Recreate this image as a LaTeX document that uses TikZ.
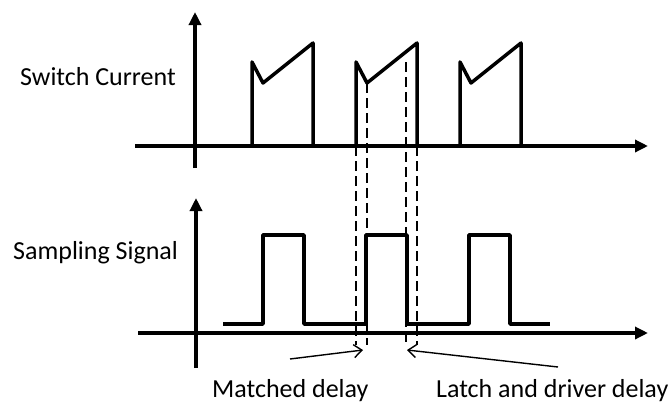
\documentclass[tikz,border=0pt]{standalone}
\usepackage{fontspec}
\setmainfont{Carlito}
\usetikzlibrary{arrows.meta}

\begin{document}
\begin{tikzpicture}[x=1pt, y=-1pt,
    axis/.style={line width=3.5pt, -{Triangle[length=13pt,width=12pt]}},
    wave/.style={line width=3.5pt, line join=round},
    guide/.style={line width=2.4pt, dash pattern=on 10pt off 5pt},
    sigtext/.style={inner sep=0pt, anchor=base west, font=\fontsize{26}{31}\selectfont},
    pointer/.style={line width=1.4pt, -{Straight Barb[length=8pt,width=13pt]}}
]
\useasboundingbox (0,0) rectangle (670,405);
% axes
\draw[axis] (195,168) -- (195,12);
\draw[axis] (135,146) -- (648,146);
\draw[axis] (196,368) -- (196,198);
\draw[axis] (138,333) -- (648,333);
% delay markers
\foreach \x/\y in {356/146, 367/83, 406/62, 417/146}
    \draw[guide] (\x,\y) -- (\x,345);
% switch current
\foreach \x in {252,356,460}
    \draw[wave] (\x,146) -- (\x,62) -- (\x+11,83) -- (\x+61,43) -- (\x+61,146);
% sampling signal
\draw[wave] (223,324) \foreach \x in {263,366,469} {
    -- (\x,324) -- (\x,235) -- (\x+41,235) -- (\x+41,324) } -- (550,324);
% labels
\node[sigtext] (current) at (20,85) {Switch Current};
\node[sigtext] (sampling) at (13,259) {Sampling Signal};
\node[sigtext] (matched) at (212,397) {Matched delay};
\node[sigtext] (latch) at (436,397) {Latch and driver delay};
\coordinate (matchedfrom) at (290,359);
\coordinate (matchedto) at (363,350);
\coordinate (latchfrom) at (558,367);
\coordinate (latchto) at (407,350);
\draw[pointer] (matchedfrom) -- (matchedto);
\draw[pointer] (latchfrom) -- (latchto);
\end{tikzpicture}
\end{document}
